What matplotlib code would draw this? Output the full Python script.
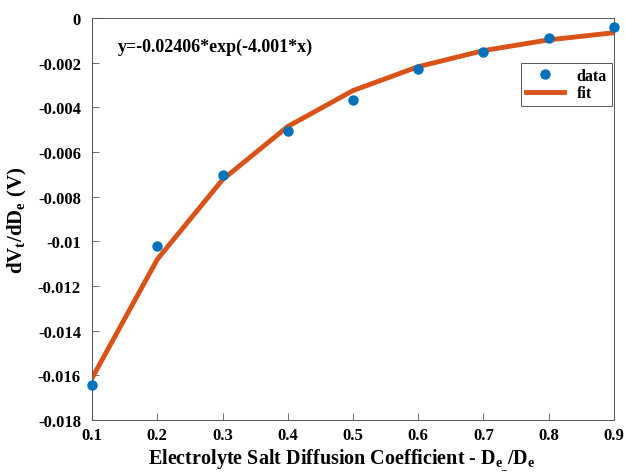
import matplotlib
matplotlib.use("Agg")
import matplotlib.pyplot as plt

# ratio De-/De
xData = [0.1, 0.2, 0.3, 0.4, 0.5, 0.6, 0.7, 0.8, 0.9]
yData = [-0.01643, -0.01021, -0.00703, -0.00506, -0.00367, -0.00228, -0.00152, -0.00090, -0.00040]
yFit = [-0.01613, -0.01081, -0.00724, -0.00486, -0.00325, -0.00218, -0.00146, -0.00098, -0.00066]

xTicks = [0.1, 0.2, 0.3, 0.4, 0.5, 0.6, 0.7, 0.8, 0.9]
xTickLabels = ["0.1", "0.2", "0.3", "0.4", "0.5", "0.6", "0.7", "0.8", "0.9"]
yTicks = [-0.018, -0.016, -0.014, -0.012, -0.01, -0.008, -0.006, -0.004, -0.002, 0]
yTickLabels = ["-0.018", "-0.016", "-0.014", "-0.012", "-0.01", "-0.008", "-0.006", "-0.004", "-0.002", "0"]

plt.rcParams["font.family"] = ["Liberation Serif", "DejaVu Serif"]
plt.rcParams["font.weight"] = "bold"
plt.rcParams["mathtext.fontset"] = "custom"
plt.rcParams["mathtext.rm"] = "Liberation Serif:bold"
plt.rcParams["mathtext.it"] = "Liberation Serif:bold"
plt.rcParams["mathtext.bf"] = "Liberation Serif:bold"

fig = plt.figure(figsize=(6.25, 4.77), dpi=100)
ax = fig.add_axes([0.1472, 0.1174, 0.8352, 0.8428])

ax.plot(xData, yData, "o", color="#0072BD", markersize=6.5, label="data", zorder=3, clip_on=False)
ax.plot(xData, yFit, "-", color="#D95319", linewidth=3.5, label="fit", zorder=2)

ax.set_xlim(0.1, 0.9)
ax.set_ylim(-0.018, 0)
ax.set_xticks(xTicks)
ax.set_xticklabels(xTickLabels)
ax.set_yticks(yTicks)
ax.set_yticklabels(yTickLabels)
ax.tick_params(direction="in", top=False, right=False, labelsize=12, length=5,
               color="#555555", width=0.6)
ax.tick_params(axis="x", pad=5)
ax.tick_params(axis="y", pad=8)
for sp in ax.spines.values():
    sp.set_color("#555555")
    sp.set_linewidth(0.7)

ax.set_xlabel(r"Electrolyte Salt Diffusion Coefficient - D$_{e_{\_}}$/D$_{e}$", fontsize=14.5,
              fontweight="bold")
ax.xaxis.set_label_coords(0.478, -0.064)
ax.set_ylabel(r"dV$_{t}$/dD$_{e}$ (V)", fontsize=15, fontweight="bold")
ax.yaxis.set_label_coords(-0.12, 0.5)

ax.text(0.05, 0.93, "y=-0.02406*exp(-4.001*x)", transform=ax.transAxes, fontsize=13,
        fontweight="bold", va="center")

leg = ax.legend(loc="upper right", bbox_to_anchor=(0.996, 0.888), fontsize=11.5,
                fancybox=False, framealpha=1, edgecolor="#555555", borderpad=0.3,
                borderaxespad=0, handlelength=2.4, labelspacing=0.1)
leg.get_frame().set_linewidth(0.7)

fig.savefig("out.png", dpi=100)
